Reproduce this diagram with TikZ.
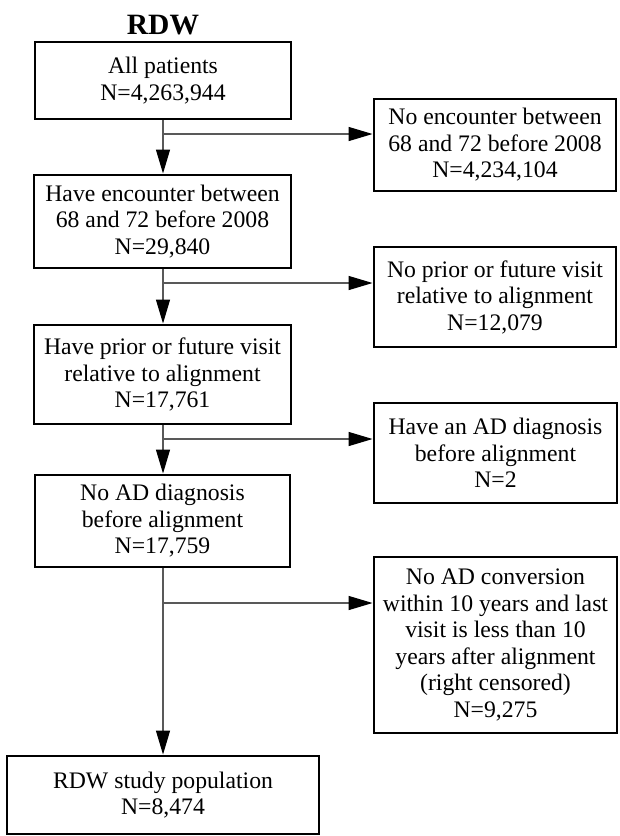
\documentclass[tikz,border=0pt]{standalone}
\usepackage{fontspec}
\setmainfont{Liberation Serif}
\usetikzlibrary{arrows.meta}
\begin{document}
\begin{tikzpicture}[x=1pt,y=-1pt,
  box/.style={draw=black, line width=2.9pt, rectangle, align=center, inner sep=0pt,
    font=\fontsize{23.7}{26.5}\selectfont},
  conn/.style={draw=black!65, line width=1.3pt, -{Triangle[length=24pt,width=14pt,fill=black,color=black]}},
  lin/.style={draw=black!65, line width=1.3pt}]
\useasboundingbox[fill=white] (0,0) rectangle (619,836);
\node[font=\bfseries\fontsize{29.5}{32}\selectfont] (title) at (163,25) {RDW};
\node[box, minimum width=256pt, minimum height=77pt] (b1) at (163,80.5) {All patients\\N=4,263,944};
\node[box, minimum width=257pt, minimum height=93pt] (b2) at (162.5,221.5) {Have encounter between\\68 and 72 before 2008\\N=29,840};
\node[box, minimum width=257pt, minimum height=99pt] (b3) at (162.5,374.5) {Have prior or future visit\\relative to alignment\\N=17,761};
\node[box, minimum width=255pt, minimum height=92pt] (b4) at (162.5,521) {No AD diagnosis\\before alignment\\N=17,759};
\node[box, minimum width=312pt, minimum height=78pt] (b5) at (163,795) {RDW study population\\N=8,474};
\node[box, minimum width=242pt, minimum height=92pt] (r1) at (495,145) {No encounter between\\68 and 72 before 2008\\N=4,234,104};
\node[box, minimum width=242pt, minimum height=100pt] (r2) at (495,297) {No prior or future visit\\relative to alignment\\N=12,079};
\node[box, minimum width=243pt, minimum height=100pt] (r3) at (495.5,453) {Have an AD diagnosis\\before alignment\\N=2};
\node[box, minimum width=243pt, minimum height=176pt] (r4) at (495.5,645) {No AD conversion\\within 10 years and last\\visit is less than 10\\years after alignment\\(right censored)\\N=9,275};
\coordinate (c1) at (163,134);
\coordinate (c2) at (163,283);
\coordinate (c3) at (163,439);
\coordinate (c4) at (163,603);
\draw[conn] (b1.south -| c1) -- (b2.north -| c1);
\draw[conn] (b2.south -| c2) -- (b3.north -| c2);
\draw[conn] (b3.south -| c3) -- (b4.north -| c3);
\draw[conn] (b4.south -| c4) -- (b5.north -| c4);
\draw[conn] (c1) -- (c1 -| r1.west);
\draw[conn] (c2) -- (c2 -| r2.west);
\draw[conn] (c3) -- (c3 -| r3.west);
\draw[conn] (c4) -- (c4 -| r4.west);
\end{tikzpicture}
\end{document}
